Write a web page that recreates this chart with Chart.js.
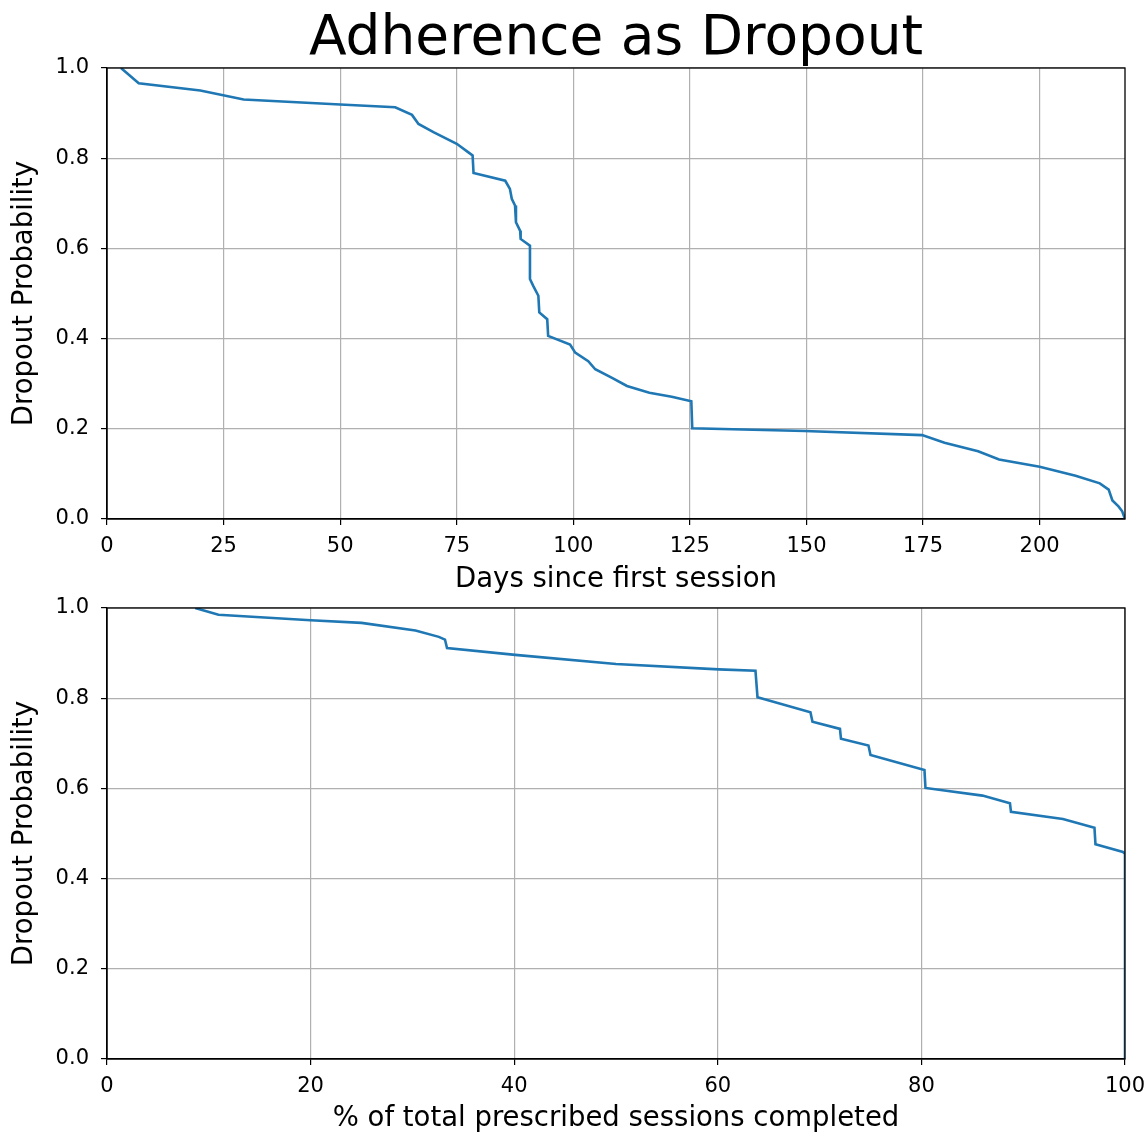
<!DOCTYPE html>
<html>
<head>
<meta charset="utf-8">
<script src="https://cdn.jsdelivr.net/npm/chart.js@4.4.1/dist/chart.umd.min.js"></script>
<style>
  html, body { margin: 0; padding: 0; background: #fff; }
  body { width: 1147px; height: 1134px; position: relative; overflow: hidden; }
  .box { position: absolute; left: 0; width: 1147px; }
  #topBox { top: 0; height: 600px; }
  #botBox { top: 595px; height: 539px; }
</style>
</head>
<body>
<div class="box" id="topBox"><canvas id="topChart"></canvas></div>
<div class="box" id="botBox"><canvas id="botChart"></canvas></div>
<script>
// ---- Data ----
const chartTitle = "Adherence as Dropout";
const yAxisLabel = "Dropout Probability";
const topXLabel = "Days since first session";
const botXLabel = "% of total prescribed sessions completed";

const topDays = [3.0, 6.8, 20, 29.3, 50, 61.8, 65.4, 66.8, 70, 75, 77.5, 78.4, 78.6, 85.4, 86.4, 86.8, 87.5, 87.7, 88.6, 88.7, 90.7, 90.7, 91.4, 92.5, 92.7, 94.4, 94.6, 99.3, 100.4, 103.2, 104.7, 108.3, 111.5, 116.3, 121.1, 125.3, 125.5, 149.6, 174.8, 179.6, 186.8, 191.3, 200, 207.7, 212.9, 214.8, 215.6, 216.9, 217.7, 218.3];
const topProb = [1.0, 0.966, 0.950, 0.930, 0.919, 0.913, 0.896, 0.876, 0.858, 0.832, 0.813, 0.806, 0.767, 0.750, 0.732, 0.710, 0.695, 0.658, 0.639, 0.621, 0.606, 0.532, 0.517, 0.495, 0.458, 0.443, 0.406, 0.387, 0.369, 0.350, 0.332, 0.313, 0.295, 0.280, 0.271, 0.261, 0.201, 0.195, 0.186, 0.169, 0.150, 0.132, 0.116, 0.096, 0.079, 0.065, 0.041, 0.028, 0.017, 0.0];

const botPct = [8.66, 10.95, 20, 25, 30.3, 32.6, 33.2, 33.4, 40.1, 50, 60.1, 63.7, 63.9, 69.1, 69.3, 72.0, 72.1, 74.8, 75.0, 80.3, 80.4, 86.0, 88.7, 88.8, 93.9, 97.0, 97.1, 99.8, 100, 100];
const botProb = [1.0, 0.985, 0.973, 0.967, 0.950, 0.936, 0.930, 0.911, 0.896, 0.876, 0.864, 0.861, 0.802, 0.769, 0.748, 0.732, 0.710, 0.695, 0.674, 0.641, 0.601, 0.584, 0.567, 0.548, 0.532, 0.513, 0.476, 0.459, 0.455, 0.0];

const topXMax = 218.3;
const topXTicks = [0, 25, 50, 75, 100, 125, 150, 175, 200];
const botXMax = 100;
const botXTicks = [0, 20, 40, 60, 80, 100];
const yTicks = [0, 0.2, 0.4, 0.6, 0.8, 1.0];

// ---- Styling ----
const FONT = "'DejaVu Sans', 'Liberation Sans', sans-serif";
const lineColor = '#1f77b4';
const gridColor = '#b0b0b0';

const frame = {
  id: 'frame',
  afterDraw(chart) {
    const a = chart.chartArea, ctx = chart.ctx;
    ctx.save();
    ctx.strokeStyle = '#000';
    ctx.lineWidth = 1.3;
    ctx.strokeRect(a.left, a.top, a.right - a.left, a.bottom - a.top);
    const t = chart.options.plugins.axTitle;
    if (t && t.text) {
      ctx.fillStyle = '#000';
      ctx.font = '55px ' + FONT;
      ctx.textAlign = 'center';
      ctx.textBaseline = 'alphabetic';
      ctx.fillText(t.text, (a.left + a.right) / 2, 54);
    }
    ctx.restore();
  }
};

function makeChart(id, xs, ys, opts) {
  const pts = xs.map((x, i) => ({ x: x, y: ys[i] }));
  return new Chart(document.getElementById(id), {
    type: 'line',
    data: { datasets: [{ data: pts, borderColor: lineColor, borderWidth: 2.6, pointRadius: 0, tension: 0, fill: false }] },
    options: {
      responsive: true,
      maintainAspectRatio: false,
      animation: false,
      events: [],
      layout: { padding: { left: 0, right: 22, top: opts.padTop, bottom: 0 } },
      plugins: {
        legend: { display: false },
        tooltip: { enabled: false },
        title: { display: false },
        axTitle: { text: opts.title }
      },
      scales: {
        x: {
          type: 'linear',
          min: 0,
          max: opts.xMax,
          ticks: { color: '#000', font: { family: FONT, size: 21 }, padding: 9, maxRotation: 0 },
          afterBuildTicks: s => { s.ticks = opts.xTicks.map(v => ({ value: v })); },
          grid: { color: gridColor, lineWidth: 1.2, tickColor: '#000', tickLength: 6 },
          border: { display: true, color: '#000', width: 1.3 },
          title: { display: true, text: opts.xLabel, color: '#000', font: { family: FONT, size: 27.5, lineHeight: 1.2 }, padding: { top: 0, bottom: opts.xTitlePad } },
          afterFit: s => { s.height = opts.xHeight; s.paddingLeft = 0; s.paddingRight = 0; }
        },
        y: {
          min: 0,
          max: 1,
          ticks: { color: '#000', font: { family: FONT, size: 21 }, padding: 12, callback: v => Number(v).toFixed(1) },
          afterBuildTicks: s => { s.ticks = yTicks.map(v => ({ value: v })); },
          grid: { color: gridColor, lineWidth: 1.2, tickColor: '#000', tickLength: 6 },
          border: { display: true, color: '#000', width: 1.3 },
          title: { display: true, text: yAxisLabel, color: '#000', font: { family: FONT, size: 27.5, lineHeight: 1.0 }, padding: { top: 11, bottom: 0 } },
          afterFit: s => { s.width = 107; s.paddingTop = 0; s.paddingBottom = 0; }
        }
      }
    },
    plugins: [frame]
  });
}

makeChart('topChart', topDays, topProb, { title: chartTitle, xLabel: topXLabel, xMax: topXMax, xTicks: topXTicks, xHeight: 81, xTitlePad: 4, padTop: 68 });
makeChart('botChart', botPct, botProb, { title: null, xLabel: botXLabel, xMax: botXMax, xTicks: botXTicks, xHeight: 75, xTitlePad: -1, padTop: 13 });
</script>
</body>
</html>
